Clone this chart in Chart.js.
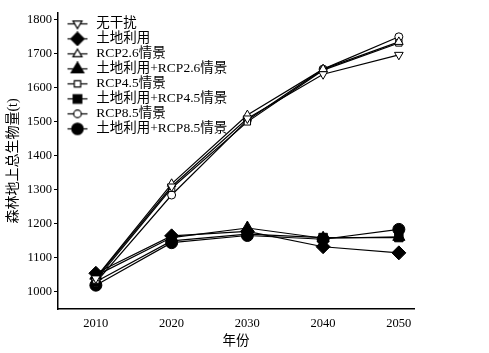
<!DOCTYPE html>
<html>
<head>
<meta charset="utf-8">
<script src="https://cdn.jsdelivr.net/npm/chart.js@4.4.1/dist/chart.umd.min.js"></script>
<style>
  html, body { margin: 0; padding: 0; background: #fff; }
  #wrap { width: 489px; height: 353px; }
</style>
</head>
<body>
<div id="wrap"><canvas id="bioChart" width="489" height="353"></canvas></div>
<script>
// data
const years = [2010, 2020, 2030, 2040, 2050];
const xTicks = [2010, 2020, 2030, 2040, 2050];
const yTicks = [1000, 1100, 1200, 1300, 1400, 1500, 1600, 1700, 1800];

const labels = [
  "无干扰", "土地利用", "RCP2.6情景", "土地利用+RCP2.6情景",
  "RCP4.5情景", "土地利用+RCP4.5情景", "RCP8.5情景", "土地利用+RCP8.5情景"
];
const noDisturb = [1040, 1310, 1510, 1640, 1697];
const landUse = [1055, 1165, 1178, 1133, 1115];
const rcp26 = [1042, 1318, 1520, 1655, 1735];
const landRcp26 = [1048, 1160, 1188, 1158, 1162];
const rcp45 = [1035, 1305, 1500, 1652, 1732];
const landRcp45 = [1030, 1150, 1170, 1160, 1160];
const rcp85 = [1028, 1285, 1505, 1655, 1750];
const landRcp85 = [1020, 1145, 1166, 1155, 1184];

const seriesValues = [noDisturb, landUse, rcp26, landRcp26, rcp45, landRcp45, rcp85, landRcp85];

// marker style per series: [shape, filled, radius]
const markers = [
  ["triangleDown", false, 5],
  ["rectRot", true, 7],
  ["triangle", false, 5],
  ["triangle", true, 7],
  ["rect", false, 4.5],
  ["rect", true, 6],
  ["circle", false, 4],
  ["circle", true, 6],
];

const FONT = "'Liberation Serif', 'Times New Roman', 'Noto Sans CJK SC', serif";

// little canvas images (line + marker) for the legend
function legendIcon(shape, filled, r) {
  const c = document.createElement("canvas");
  c.width = 30;
  c.height = 15;
  const g = c.getContext("2d");
  const cx = 18, cy = 7.5;
  g.strokeStyle = "#000";
  g.lineWidth = 1.2;
  g.beginPath();
  g.moveTo(8, cy);
  g.lineTo(28, cy);
  g.stroke();
  const s = r * 0.95;
  g.beginPath();
  if (shape === "circle") {
    g.arc(cx, cy, s, 0, Math.PI * 2);
  } else if (shape === "rect") {
    const h = s * 0.75;
    g.rect(cx - h, cy - h, 2 * h, 2 * h);
  } else if (shape === "rectRot") {
    g.moveTo(cx, cy - s); g.lineTo(cx + s, cy); g.lineTo(cx, cy + s); g.lineTo(cx - s, cy);
    g.closePath();
  } else if (shape === "triangle") {
    g.moveTo(cx, cy - s); g.lineTo(cx + s * 0.95, cy + s * 0.6); g.lineTo(cx - s * 0.95, cy + s * 0.6);
    g.closePath();
  } else {
    g.moveTo(cx, cy + s); g.lineTo(cx + s * 0.95, cy - s * 0.6); g.lineTo(cx - s * 0.95, cy - s * 0.6);
    g.closePath();
  }
  g.fillStyle = filled ? "#000" : "#fff";
  g.fill();
  g.stroke();
  return c;
}

const datasets = seriesValues.map((vals, i) => {
  const [shape, filled, r] = markers[i];
  const down = shape === "triangleDown";
  return {
    label: labels[i],
    data: years.map((y, k) => ({ x: y, y: vals[k] })),
    borderColor: "#000",
    borderWidth: 1.2,
    pointStyle: down ? "triangle" : shape,
    rotation: down ? 180 : 0,
    pointRadius: r,
    pointBorderWidth: 1,
    pointBackgroundColor: filled ? "#000" : "#fff",
    pointBorderColor: "#000",
    tension: 0,
    icon: legendIcon(shape, filled, r),
  };
});

new Chart(document.getElementById("bioChart"), {
  type: "line",
  data: { datasets },
  options: {
    responsive: false,
    animation: false,
    layout: { padding: { top: 13, right: 75, left: 0, bottom: 0 } },
    plugins: {
      tooltip: { enabled: false },
      legend: {
        position: "chartArea",
        align: "start",
        // blank title only pushes the rows down below the top of the plot
        title: { display: true, text: " ", padding: 0, font: { size: 13 } },
        labels: {
          usePointStyle: true,
          pointStyleWidth: 30,
          padding: 1.5,
          color: "#000",
          font: { size: 13.5, family: FONT },
          generateLabels(chart) {
            return chart.data.datasets.map((ds, i) => ({
              text: ds.label,
              pointStyle: ds.icon,
              rotation: 0,
              fillStyle: "#000",
              strokeStyle: "#000",
              lineWidth: 0,
              fontColor: "#000",
              datasetIndex: i,
            }));
          },
        },
      },
    },
    scales: {
      x: {
        type: "linear",
        min: 2005,
        max: 2052,
        afterBuildTicks(scale) {
          scale.ticks = xTicks.map((v) => ({ value: v }));
        },
        afterFit(scale) {
          scale.height = 44;
        },
        border: { display: true, color: "#000", width: 1.5 },
        grid: { display: false, drawTicks: false },
        ticks: {
          color: "#000",
          padding: 7,
          maxRotation: 0,
          font: { size: 12.5, family: FONT },
          callback: (v) => String(v),
        },
        title: {
          display: true,
          text: "年份",
          color: "#000",
          padding: { top: 0, bottom: 3 },
          font: { size: 13.5, family: FONT },
        },
      },
      y: {
        min: 950,
        max: 1820,
        afterBuildTicks(scale) {
          scale.ticks = yTicks.map((v) => ({ value: v }));
        },
        afterFit(scale) {
          scale.width = 58;
        },
        border: { display: true, color: "#000", width: 1.5 },
        grid: {
          display: true,
          drawOnChartArea: false,
          drawTicks: true,
          tickLength: 4,
          color: "#000",
          lineWidth: 1,
        },
        ticks: {
          color: "#000",
          padding: 2,
          font: { size: 12.5, family: FONT },
          callback: (v) => String(v),
        },
        title: {
          display: true,
          text: "森林地上总生物量(t)",
          color: "#000",
          padding: { top: 5, bottom: 0 },
          font: { size: 14, family: FONT },
        },
      },
    },
  },
});
</script>
</body>
</html>
